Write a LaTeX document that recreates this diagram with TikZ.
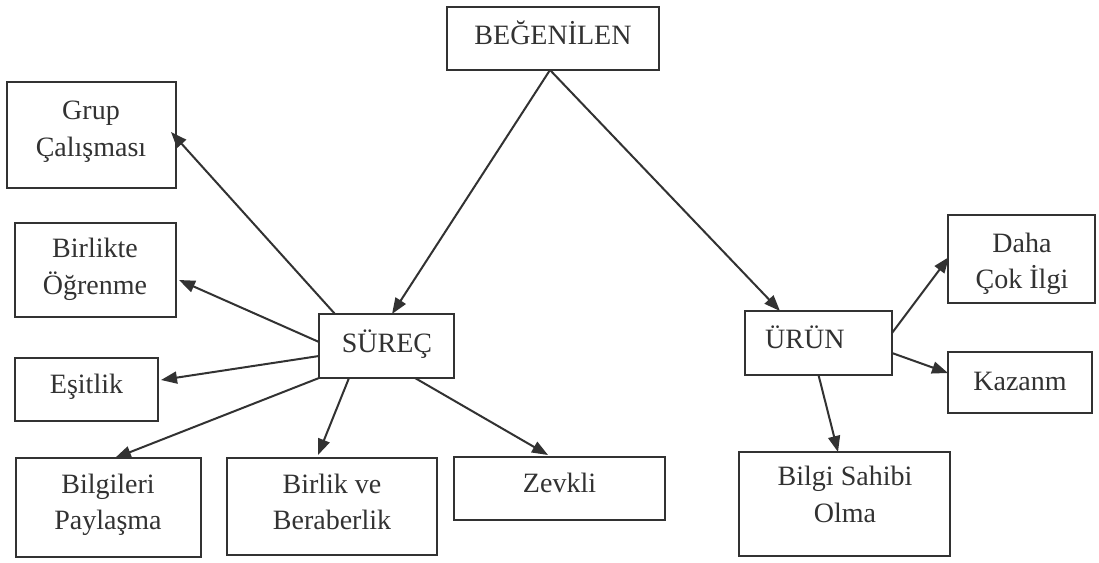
\documentclass[tikz,border=0pt]{standalone}
\usepackage{fontspec}
\setmainfont{Liberation Serif}
\usetikzlibrary{arrows.meta}
\definecolor{ink}{RGB}{50,50,50}
\tikzset{
  box/.style={draw=ink, line width=1.8pt, inner sep=0pt, outer sep=0pt, rectangle},
  txt/.style={text=ink, anchor=base, align=center, inner sep=0pt,
              font=\fontsize{28}{36.5}\selectfont},
  link/.style={draw=ink, line width=2pt, -{Triangle[length=16pt,width=12pt]}}
}
\begin{document}
\begin{tikzpicture}[x=1pt,y=-1pt]
\useasboundingbox[fill=white] (0,0) rectangle (1099,562);

% boxes
\node[box, minimum width=212pt, minimum height=63pt]  (beg)   at (553,38.5)   {};
\node[box, minimum width=169pt, minimum height=106pt] (grup)  at (91.5,135)   {};
\node[box, minimum width=161pt, minimum height=94pt]  (birlikte) at (95.5,270) {};
\node[box, minimum width=143pt, minimum height=63pt]  (esitlik) at (86.5,389.5) {};
\node[box, minimum width=135pt, minimum height=64pt]  (surec) at (386.5,346)  {};
\node[box, minimum width=185pt, minimum height=99pt]  (bilgileri) at (108.5,507.5) {};
\node[box, minimum width=210pt, minimum height=97pt]  (birlik) at (332,506.5) {};
\node[box, minimum width=211pt, minimum height=63pt]  (zevkli) at (559.5,488.5) {};
\node[box, minimum width=147pt, minimum height=64pt]  (urun)  at (818.5,343)  {};
\node[box, minimum width=147pt, minimum height=88pt]  (daha)  at (1021.5,259) {};
\node[box, minimum width=144pt, minimum height=61pt]  (kazanm) at (1020,382.5) {};
\node[box, minimum width=211pt, minimum height=104pt] (sahibi) at (844.5,504) {};

% labels (placed at the baseline of their last line)
\node[txt] (begT)      at (553,44)    {BEĞENİLEN};
\node[txt] (grupT)     at (91,156)    {Grup\\Çalışması};
\node[txt] (birlikteT) at (95,294)    {Birlikte\\Öğrenme};
\node[txt] (esitlikT)  at (86.5,393)  {Eşitlik};
\node[txt] (surecT)    at (387,352)   {SÜREÇ};
\node[txt] (bilgileriT) at (108,529.5) {Bilgileri\\Paylaşma};
\node[txt] (birlikT)   at (332,529.5) {Birlik ve\\Beraberlik};
\node[txt] (zevkliT)   at (559.5,492) {Zevkli};
\node[txt, anchor=base west] (urunT) at (765,348) {ÜRÜN};
\node[txt] (dahaT)     at (1022,288.5) {Daha\\Çok İlgi};
\node[txt] (kazanmT)   at (1020,390)  {Kazanm};
\node[txt] (sahibiT)   at (845,522)   {Bilgi Sahibi\\Olma};

% connectors
\draw[link] ([xshift=-3pt]beg.south) -- ([xshift=73pt]surec.north west);
\draw[link] ([xshift=-3pt]beg.south) -- ([xshift=35pt]urun.north west);

\draw[link] ([xshift=16pt]surec.north west) -- ([xshift=-5pt,yshift=3pt]grup.east);
\draw[link] ([yshift=4pt]surec.west) -- ([xshift=3pt,yshift=-10pt]birlikte.east);
\draw[link] ([yshift=-10pt]surec.west) -- ([xshift=3pt,yshift=9.5pt]esitlik.east);
\draw[link] (surec.south west) -- ([xshift=6.5pt]bilgileri.north);
\draw[link] ([xshift=30pt]surec.south west) -- ([xshift=91pt,yshift=3pt]birlik.north west);
\draw[link] ([xshift=-39pt]surec.south east) -- ([xshift=-11.5pt,yshift=2pt]zevkli.north);

\draw[link] ([yshift=10pt]urun.east) -- ([xshift=1pt,yshift=2pt]daha.west);
\draw[link] ([yshift=-10pt]urun.east) -- ([yshift=9.5pt]kazanm.west);
\draw[link] (urun.south) -- ([xshift=-6.5pt]sahibi.north);
\end{tikzpicture}
\end{document}
